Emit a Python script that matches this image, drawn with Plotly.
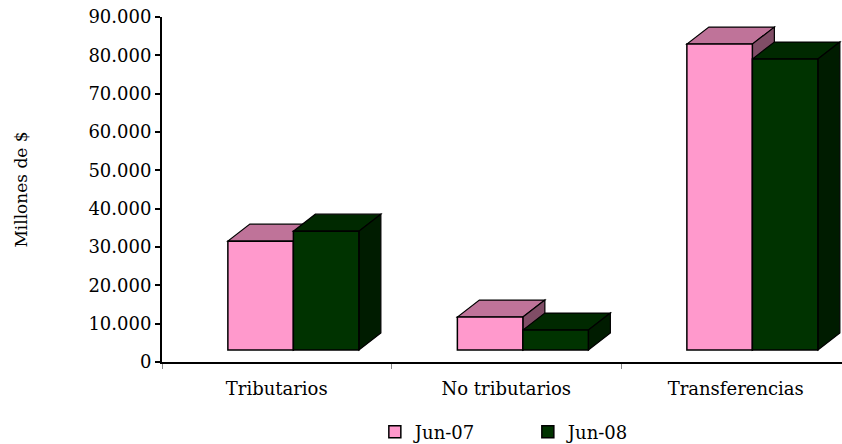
import plotly.graph_objects as go

categories = ["Tributarios", "No tributarios", "Transferencias"]
series_names = ["Jun-07", "Jun-08"]
jun07 = [28400, 8600, 79800]
jun08 = [31000, 5200, 75900]
y_tick_vals = [0, 10000, 20000, 30000, 40000, 50000, 60000, 70000, 80000, 90000]
y_tick_text = ["0", "10.000", "20.000", "30.000", "40.000", "50.000",
               "60.000", "70.000", "80.000", "90.000"]

front_colors = ["#FF99CC", "#003300"]
top_colors = ["#BF7399", "#002900"]
side_colors = ["#804D66", "#001C00"]

FONT = "DejaVu Serif"
W, H = 842, 444
ML, MR, MT, MB = 162, 0, 17, 82
plot_w = W - ML - MR
plot_h = H - MT - MB
px_per_cat = 229.5
x_range = [-0.5, -0.5 + plot_w / px_per_cat]
y_range = [0, 90000]
units_per_px = (y_range[1] - y_range[0]) / plot_h
floor_px = 12
y2_range = [-floor_px * units_per_px, y_range[1] - floor_px * units_per_px]

bar_w = 65.5 / px_per_cat
offsets = [-0.213, -0.213 + bar_w]
depth_x = 22 / px_per_cat
depth_y = 17 * units_per_px

xs = list(range(len(categories)))
fig = go.Figure()
# axis-holder trace so the labelled value axis is drawn
fig.add_trace(go.Scatter(x=[xs[0]], y=[y_range[0]], mode="markers",
                         marker=dict(opacity=0), showlegend=False, hoverinfo="skip"))
series = [jun07, jun08]
for i, vals in enumerate(series):
    fig.add_trace(go.Bar(
        x=xs, y=vals, name=series_names[i], width=bar_w, offset=offsets[i],
        marker=dict(color=front_colors[i], line=dict(color="black", width=1.5)),
        yaxis="y2", showlegend=True,
    ))

shapes = []
for i, vals in enumerate(series):
    for c, v in zip(xs, vals):
        x0 = c + offsets[i]
        x1 = x0 + bar_w
        top = f"M{x0},{v} L{x1},{v} L{x1+depth_x},{v+depth_y} L{x0+depth_x},{v+depth_y} Z"
        side = f"M{x1},0 L{x1+depth_x},{depth_y} L{x1+depth_x},{v+depth_y} L{x1},{v} Z"
        for path, col in ((top, top_colors[i]), (side, side_colors[i])):
            shapes.append(dict(type="path", path=path, xref="x", yref="y2",
                               fillcolor=col, line=dict(color="black", width=1.2),
                               layer="below"))

fig.update_layout(
    width=W, height=H,
    margin=dict(l=ML, r=MR, t=MT, b=MB, pad=0, autoexpand=False),
    paper_bgcolor="white", plot_bgcolor="white",
    font=dict(family=FONT, size=18, color="black"),
    barmode="overlay",
    shapes=shapes,
    xaxis=dict(range=x_range, tickvals=xs, ticktext=categories, ticks="",
               showline=True, linecolor="black", linewidth=2, showgrid=False,
               zeroline=False, ticklabelstandoff=9, automargin=False,
               tickfont=dict(family=FONT, size=18),
               minor=dict(tickvals=[-0.5, 0.5, 1.5], ticks="outside", ticklen=5,
                          tickcolor="#888888", tickwidth=1)),
    yaxis=dict(range=y_range, tickvals=y_tick_vals, ticktext=y_tick_text,
               ticks="outside", ticklen=5, tickwidth=1.5, tickcolor="black",
               showline=True, linecolor="black", linewidth=2, showgrid=False,
               zeroline=False, tickfont=dict(family=FONT, size=18), automargin=False,
               title=dict(text="Millones de $", font=dict(family=FONT, size=17),
                          standoff=56)),
    yaxis2=dict(range=y2_range, overlaying="y", visible=False, showgrid=False,
                zeroline=False),
    legend=dict(orientation="h", x=0.313, xanchor="left", y=-0.203, yanchor="middle",
                font=dict(family=FONT, size=18), entrywidth=108,
                bgcolor="rgba(0,0,0,0)"),
)

fig.write_html("out.html", config={"displayModeBar": False},
               post_script="document.body.style.margin='0';")
